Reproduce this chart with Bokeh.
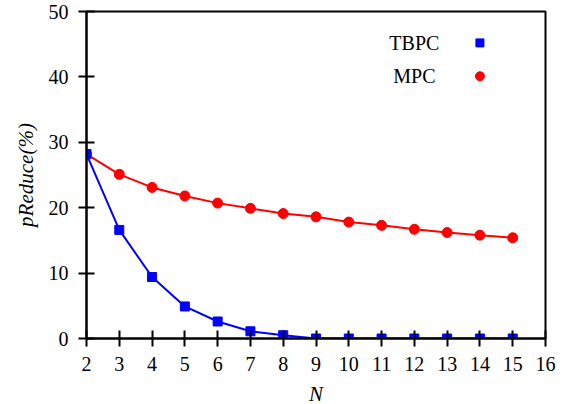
from bokeh.plotting import figure
from bokeh.models import Range1d, FixedTicker, Label
from bokeh.embed import file_html
from bokeh.resources import INLINE

# ---- data ----
N = [2, 3, 4, 5, 6, 7, 8, 9, 10, 11, 12, 13, 14, 15]
tbpc = [28.2, 16.6, 9.4, 4.9, 2.6, 1.1, 0.5, 0, 0, 0, 0, 0, 0, 0]
mpc = [28.2, 25.1, 23.1, 21.8, 20.7, 19.9, 19.1, 18.6, 17.8, 17.3, 16.7, 16.2, 15.8, 15.4]
x_ticks = list(range(2, 17))
y_ticks = [0, 10, 20, 30, 40, 50]
series_names = ["TBPC", "MPC"]

FONT = "Liberation Serif"
BLUE = "#0000ff"
RED = "#ff0000"

p = figure(frame_width=459, frame_height=327, output_backend="svg", toolbar_location=None,
           x_range=Range1d(2, 16), y_range=Range1d(0, 50),
           min_border_left=86, min_border_right=14, min_border_top=11, min_border_bottom=10)

p.xgrid.visible = False
p.ygrid.visible = False
p.outline_line_color = "black"
p.outline_line_width = 2
p.background_fill_color = "white"
p.border_fill_color = "white"

for ax in (p.xaxis[0], p.yaxis[0]):
    ax.axis_line_width = 2
    ax.axis_line_color = "black"
    ax.major_tick_line_width = 2
    ax.major_tick_line_color = "black"
    ax.major_tick_in = 8
    ax.major_tick_out = 8
    ax.minor_tick_line_color = None
    ax.major_label_text_font = FONT
    ax.major_label_text_font_size = "20px"
    ax.major_label_text_color = "black"
    ax.axis_label_text_font = FONT
    ax.axis_label_text_font_size = "21px"
    ax.axis_label_text_font_style = "italic"
    ax.axis_label_text_color = "black"

p.xaxis.ticker = FixedTicker(ticks=x_ticks)
p.yaxis.ticker = FixedTicker(ticks=y_ticks)
p.xaxis.major_label_standoff = 10
p.yaxis.major_label_standoff = 10
p.xaxis.axis_label = "N"
p.yaxis.axis_label = "pReduce(%)"
p.xaxis.axis_label_standoff = 8
p.yaxis.axis_label_standoff = 8

p.line(N, mpc, line_color=RED, line_width=2)
p.scatter(N, mpc, marker="circle", size=10, fill_color=RED, line_color=RED)
p.line(N, tbpc, line_color=BLUE, line_width=2)
p.scatter(N, tbpc, marker="square", size=9, fill_color=BLUE, line_color=BLUE)

# legend (text left, marker right), placed in data units
leg_text_x = 12.0
leg_y = [45.2, 40.1]
leg_marker_x = 14.0
for name, ty in zip(series_names, leg_y):
    p.add_layout(Label(x=leg_text_x, y=ty, text=name,
                       text_font=FONT, text_font_size="20px", text_align="center",
                       text_baseline="middle", text_color="black"))
p.scatter([leg_marker_x], [leg_y[0]], marker="square", size=8, fill_color=BLUE, line_color=BLUE)
p.scatter([leg_marker_x], [leg_y[1]], marker="circle", size=9, fill_color=RED, line_color=RED)

open("out.html", "w").write(file_html(p, INLINE))
